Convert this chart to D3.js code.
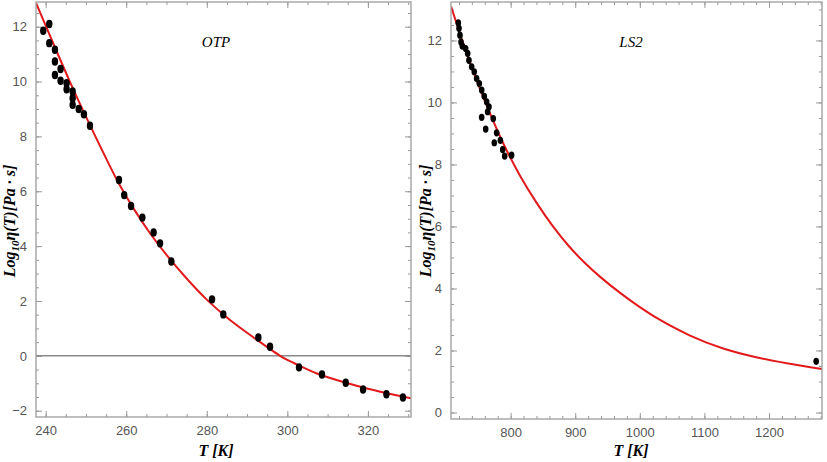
<!DOCTYPE html>
<html>
<head>
<meta charset="utf-8">
<script src="https://cdn.jsdelivr.net/npm/d3@7"></script>
<style>
  body { margin: 0; background: #fff; }
  svg { display: block; }
</style>
</head>
<body>
<div id="chart"></div>
<script>
// OTP measured points (T in K, log10 viscosity)
const otpT = [239.4, 240.9, 240.9, 242.3, 242.3, 242.3, 243.7, 243.7, 245.2, 245.2, 246.7, 246.7, 246.7, 248.2, 249.5, 251.0,
  258.2, 259.5, 261.2, 264.0, 266.8, 268.4, 271.2, 281.3, 284.1, 292.8, 295.7,
  302.9, 308.6, 314.5, 318.8, 324.6, 328.7];
const otpLogEta = [11.85, 12.1, 11.4, 11.16, 10.73, 10.24, 10.46, 10.03, 9.94, 9.72, 9.64, 9.39, 9.15, 9.0, 8.81, 8.39,
  6.41, 5.86, 5.46, 5.04, 4.50, 4.10, 3.44, 2.06, 1.51, 0.67, 0.33,
  -0.42, -0.68, -0.98, -1.23, -1.40, -1.52];

// OTP fitted curve
const otpFitT = [237.6, 242, 246, 250, 254, 258, 262, 266, 270, 275, 280, 285, 290, 295, 298, 300, 303, 308, 315, 320, 325, 330.7];
const otpFitLogEta = [12.87, 11.35, 10.0, 8.72, 7.5, 6.33, 5.33, 4.45, 3.68, 2.82, 2.05, 1.4, 0.84, 0.32, 0.02, -0.15, -0.36, -0.68, -1.0, -1.2, -1.37, -1.55];

// LS2 measured points
const ls2T = [719.0, 720.1, 721.6, 723.2, 725.2, 730.4, 733.5, 735.5, 739.7, 743.7, 747.4, 751.5, 755.2, 759.2, 762.9, 766.5, 764.4,
  755.2, 761.4, 773.1, 778.4, 774.7, 784.1, 787.7, 790.8, 801.5, 1273];
const ls2LogEta = [12.57, 12.39, 12.17, 11.95, 11.82, 11.74, 11.58, 11.36, 11.15, 10.99, 10.77, 10.61, 10.40, 10.20, 10.02, 9.86, 9.70,
  9.52, 9.14, 9.48, 9.02, 8.70, 8.78, 8.48, 8.27, 8.30, 1.65];

// LS2 fitted curve
const ls2FitT = [707.7, 735, 760, 790, 815, 840, 865, 890, 915, 940, 970, 1000, 1026, 1077, 1128, 1180, 1232, 1282];
const ls2FitLogEta = [13.1, 11.4, 10.05, 8.62, 7.62, 6.77, 6.02, 5.37, 4.82, 4.35, 3.85, 3.40, 3.05, 2.49, 2.07, 1.78, 1.57, 1.40];

// tick labels
const otpXTicks = [240, 260, 280, 300, 320];
const otpYTicks = [-2, 0, 2, 4, 6, 8, 10, 12];
const ls2XTicks = [800, 900, 1000, 1100, 1200];
const ls2YTicks = [0, 2, 4, 6, 8, 10, 12];

const width = 827, height = 462;
const svg = d3.select("#chart").append("svg")
  .attr("width", width)
  .attr("height", height);

const frameColor = "#a3a3a3";
const tickFont = "'Liberation Sans Narrow', 'Liberation Sans', Arial, sans-serif";
const serif = "'Liberation Serif', 'DejaVu Serif', serif";

function drawPanel(cfg) {
  const x = d3.scaleLinear().domain(cfg.xDomain).range([cfg.left, cfg.right]);
  const y = d3.scaleLinear().domain(cfg.yDomain).range([cfg.bottom, cfg.top]);
  const g = svg.append("g");

  // minor ticks on all four sides
  const minorX = d3.range(cfg.xMinor[0], cfg.xDomain[1], cfg.xMinor[1]);
  const minorY = d3.range(cfg.yMinor[0], cfg.yDomain[1], cfg.yMinor[1]);

  function tickAxis(axisFn, scale, values, size, tx, ty, labels) {
    const a = axisFn(scale).tickValues(values).tickSizeInner(size).tickSizeOuter(0);
    if (!labels) a.tickFormat("");
    else a.tickPadding(labels).tickFormat(d3.format("d"));
    const ag = g.append("g").attr("transform", `translate(${tx},${ty})`).call(a);
    ag.select(".domain").remove();
    ag.selectAll("line").attr("stroke", "#999").attr("stroke-width", 1);
    return ag;
  }

  // bottom
  tickAxis(d3.axisBottom, x, minorX, -3, 0, cfg.bottom);
  const bx = tickAxis(d3.axisBottom, x, cfg.xTicks, -6, 0, cfg.bottom, 9);
  // top
  tickAxis(d3.axisTop, x, minorX, -3, 0, cfg.top);
  tickAxis(d3.axisTop, x, cfg.xTicks, -6, 0, cfg.top);
  // left
  tickAxis(d3.axisLeft, y, minorY, -3, cfg.left, 0);
  const ly = tickAxis(d3.axisLeft, y, cfg.yTicks, -6, cfg.left, 0, 9);
  // right
  tickAxis(d3.axisRight, y, minorY, -3, cfg.right, 0);
  tickAxis(d3.axisRight, y, cfg.yTicks, -6, cfg.right, 0);

  [bx, ly].forEach(ag => ag.selectAll("text")
    .attr("font-family", tickFont)
    .attr("font-size", 13)
    .attr("fill", "#555"));

  // horizontal axis at zero (only the OTP panel shows it)
  if (cfg.zeroLine) {
    g.append("line")
      .attr("x1", cfg.left).attr("x2", cfg.right)
      .attr("y1", y(0)).attr("y2", y(0))
      .attr("stroke", "#8a8a8a").attr("stroke-width", 1.5);
  }

  // clip region
  const clipId = "clip-" + cfg.name;
  svg.append("clipPath").attr("id", clipId)
    .append("rect")
    .attr("x", cfg.left).attr("y", cfg.top)
    .attr("width", cfg.right - cfg.left).attr("height", cfg.bottom - cfg.top);

  const plot = g.append("g").attr("clip-path", `url(#${clipId})`);

  const fit = cfg.fitT.map((t, i) => [t, cfg.fitV[i]]);
  plot.append("path")
    .datum(fit)
    .attr("fill", "none")
    .attr("stroke", "#e31a1c")
    .attr("stroke-width", 2)
    .attr("d", d3.line().x(d => x(d[0])).y(d => y(d[1])).curve(d3.curveCatmullRom));

  const pts = cfg.T.map((t, i) => [t, cfg.V[i]]);
  plot.selectAll("ellipse")
    .data(pts)
    .join("ellipse")
    .attr("cx", d => x(d[0]))
    .attr("cy", d => y(d[1]))
    .attr("rx", cfg.rx)
    .attr("ry", cfg.ry)
    .attr("fill", "#000");

  // frame
  g.append("rect")
    .attr("x", cfg.left).attr("y", cfg.top)
    .attr("width", cfg.right - cfg.left).attr("height", cfg.bottom - cfg.top)
    .attr("fill", "none")
    .attr("stroke", frameColor)
    .attr("stroke-width", 1.4);

  // panel title
  g.append("text")
    .attr("x", cfg.titleX).attr("y", 47)
    .attr("text-anchor", "middle")
    .attr("font-family", serif)
    .attr("font-style", "italic")
    .attr("font-size", 15)
    .text(cfg.name);

  // x title
  g.append("text")
    .attr("x", cfg.xTitleX).attr("y", 456)
    .attr("text-anchor", "middle")
    .attr("font-family", serif)
    .attr("font-style", "italic")
    .attr("font-weight", "bold")
    .attr("font-size", 16)
    .text("T [K]");

  // y title
  const yt = g.append("text")
    .attr("transform", `translate(${cfg.yTitleX},221) rotate(-90)`)
    .attr("text-anchor", "middle")
    .attr("font-family", serif)
    .attr("font-style", "italic")
    .attr("font-weight", "bold")
    .attr("font-size", 16);
  yt.append("tspan").text("Log");
  yt.append("tspan").attr("font-size", 11).attr("dy", 4).text("10");
  yt.append("tspan").attr("dy", -4).text("η(T)[Pa · s]");
}

drawPanel({
  name: "OTP",
  left: 36, right: 411, top: 2, bottom: 417,
  xDomain: [237.6, 330.7], yDomain: [-2.23, 12.9],
  xTicks: otpXTicks, yTicks: otpYTicks,
  xMinor: [240, 5], yMinor: [-2, 0.5],
  T: otpT, V: otpLogEta, fitT: otpFitT, fitV: otpFitLogEta,
  rx: 3.2, ry: 4.2, zeroLine: true,
  titleX: 216, xTitleX: 216, yTitleX: 15
});

drawPanel({
  name: "LS2",
  left: 451, right: 822, top: 2, bottom: 419,
  xDomain: [707.7, 1282], yDomain: [-0.21, 13.24],
  xTicks: ls2XTicks, yTicks: ls2YTicks,
  xMinor: [720, 20], yMinor: [0, 0.5],
  T: ls2T, V: ls2LogEta, fitT: ls2FitT, fitV: ls2FitLogEta,
  rx: 2.8, ry: 3.6, zeroLine: false,
  titleX: 631, xTitleX: 631, yTitleX: 431
});
</script>
</body>
</html>
